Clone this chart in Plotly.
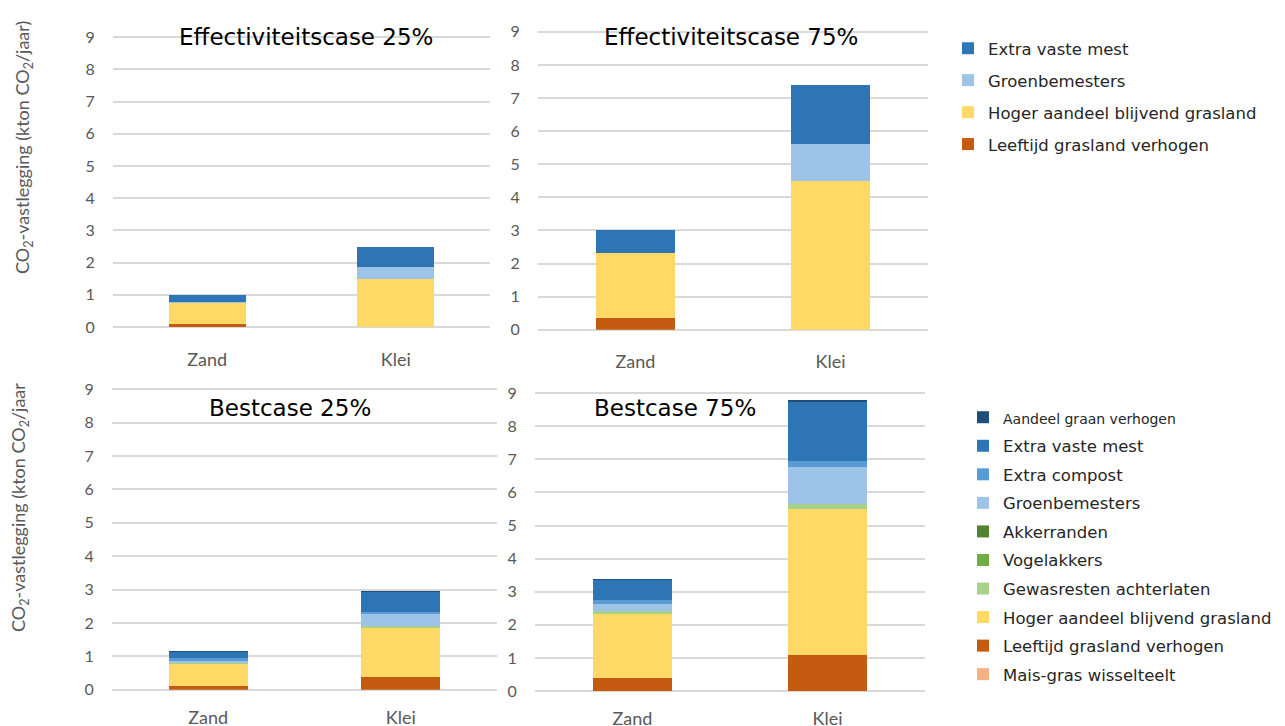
import plotly.graph_objects as go

W, H = 1285, 726

categories = ["Zand", "Klei"]

# Effectiviteitscase 25%  (values per category: Zand, Klei)
eff25_leeftijd = [0.10, 0.00]
eff25_hoger = [0.65, 1.50]
eff25_groen = [0.02, 0.37]
eff25_mest = [0.23, 0.61]

# Effectiviteitscase 75%
eff75_leeftijd = [0.35, 0.00]
eff75_hoger = [1.98, 4.50]
eff75_groen = [0.00, 1.10]
eff75_mest = [0.67, 1.80]

# Bestcase 25%
best25_mais = [0.00, 0.00]
best25_leeftijd = [0.12, 0.38]
best25_hoger = [0.67, 1.46]
best25_gewas = [0.02, 0.06]
best25_vogel = [0.00, 0.00]
best25_akker = [0.00, 0.00]
best25_groen = [0.08, 0.37]
best25_compost = [0.05, 0.07]
best25_mest = [0.20, 0.60]
best25_graan = [0.01, 0.02]

# Bestcase 75%
best75_mais = [0.00, 0.00]
best75_leeftijd = [0.40, 1.08]
best75_hoger = [1.96, 4.42]
best75_gewas = [0.05, 0.16]
best75_vogel = [0.00, 0.00]
best75_akker = [0.00, 0.00]
best75_groen = [0.22, 1.11]
best75_compost = [0.11, 0.18]
best75_mest = [0.63, 1.81]
best75_graan = [0.02, 0.02]

y_ticks = [0, 1, 2, 3, 4, 5, 6, 7, 8, 9]

COLORS = {
    "Aandeel graan verhogen": "#1F4E79",
    "Extra vaste mest": "#2E75B6",
    "Extra compost": "#5B9BD5",
    "Groenbemesters": "#9DC3E6",
    "Akkerranden": "#548235",
    "Vogelakkers": "#70AD47",
    "Gewasresten achterlaten": "#A9D18E",
    "Hoger aandeel blijvend grasland": "#FFD966",
    "Leeftijd grasland verhogen": "#C55A11",
    "Mais-gras wisselteelt": "#F4B183",
}

# stacking order, bottom to top
eff_series = [
    ("Leeftijd grasland verhogen", eff25_leeftijd, eff75_leeftijd),
    ("Hoger aandeel blijvend grasland", eff25_hoger, eff75_hoger),
    ("Groenbemesters", eff25_groen, eff75_groen),
    ("Extra vaste mest", eff25_mest, eff75_mest),
]
best_series = [
    ("Mais-gras wisselteelt", best25_mais, best75_mais),
    ("Leeftijd grasland verhogen", best25_leeftijd, best75_leeftijd),
    ("Hoger aandeel blijvend grasland", best25_hoger, best75_hoger),
    ("Gewasresten achterlaten", best25_gewas, best75_gewas),
    ("Vogelakkers", best25_vogel, best75_vogel),
    ("Akkerranden", best25_akker, best75_akker),
    ("Groenbemesters", best25_groen, best75_groen),
    ("Extra compost", best25_compost, best75_compost),
    ("Extra vaste mest", best25_mest, best75_mest),
    ("Aandeel graan verhogen", best25_graan, best75_graan),
]

# panel boxes in pixels: (left, right, y-pixel of 0, pixels per unit, x tick gap)
panels = {
    1: (113, 490, 327.0, 32.2, 16),
    2: (538, 928, 329.7, 33.1, 16),
    3: (112, 497, 689.7, 33.4, 12),
    4: (535, 925, 691.0, 33.1, 11),
}
YMAX = 9.1

fig = go.Figure()

def add_stack(series, idx, axis_n, group_prefix):
    for name, v25, v75 in series:
        vals = v25 if idx == 0 else v75
        fig.add_trace(go.Bar(
            x=categories, y=vals, name=name,
            marker=dict(color=COLORS[name], line=dict(width=0)),
            xaxis="x" if axis_n == 1 else f"x{axis_n}",
            yaxis="y" if axis_n == 1 else f"y{axis_n}",
            legendgroup=f"{group_prefix}_{name}",
            showlegend=False,
        ))

add_stack(eff_series, 0, 1, "eff")
add_stack(eff_series, 1, 2, "eff")
add_stack(best_series, 0, 3, "best")
add_stack(best_series, 1, 4, "best")

# legend entries (top to bottom)
for rank, (name, _, _) in enumerate(reversed(eff_series)):
    fig.add_trace(go.Scatter(
        x=[None], y=[None], mode="markers", name=name,
        marker=dict(symbol="square", size=9, color=COLORS[name]),
        legend="legend", legendgroup=f"eff_{name}", legendrank=rank + 1,
        xaxis="x", yaxis="y",
    ))
for rank, (name, _, _) in enumerate(reversed(best_series)):
    label = name
    if name == "Aandeel graan verhogen":
        label = "<span style='font-size:14px'>Aandeel graan verhogen</span>"
    fig.add_trace(go.Scatter(
        x=[None], y=[None], mode="markers", name=label,
        marker=dict(symbol="square", size=9, color=COLORS[name]),
        legend="legend2", legendgroup=f"best_{name}", legendrank=rank + 1,
        xaxis="x3", yaxis="y3",
    ))

layout = dict(
    width=W, height=H,
    margin=dict(l=0, r=0, t=0, b=0, autoexpand=False),
    paper_bgcolor="white", plot_bgcolor="white",
    barmode="stack", bargap=0.59,
    showlegend=True,
)

for n, (left, right, y0, unit, xgap) in panels.items():
    top = y0 - YMAX * unit
    xa = "xaxis" if n == 1 else f"xaxis{n}"
    ya = "yaxis" if n == 1 else f"yaxis{n}"
    xref = "x" if n == 1 else f"x{n}"
    yref = "y" if n == 1 else f"y{n}"
    layout[xa] = dict(
        domain=[left / W, right / W], anchor=yref, automargin=False,
        showgrid=False, zeroline=False, showline=False,
        ticks="outside", ticklen=xgap, tickcolor="rgba(0,0,0,0)",
        tickfont=dict(family="Lato", size=18, color="#595959"),
        fixedrange=True,
    )
    layout[ya] = dict(
        domain=[1 - y0 / H, 1 - top / H], anchor=xref, automargin=False,
        range=[0, YMAX], tickvals=y_ticks,
        showgrid=True, gridcolor="#D9D9D9", gridwidth=2,
        zeroline=True, zerolinecolor="#D9D9D9", zerolinewidth=2,
        showline=False,
        ticks="outside", ticklen=14, tickcolor="rgba(0,0,0,0)",
        tickfont=dict(family="Lato", size=16, color="#595959"),
        fixedrange=True,
    )

legend_font = dict(family="DejaVu Sans", size=16.5, color="#262626")
layout["legend"] = dict(
    x=948 / W, y=1 - 31 / H, xanchor="left", yanchor="top",
    font=legend_font, tracegroupgap=7.5, traceorder="grouped",
    bgcolor="rgba(0,0,0,0)", itemsizing="constant",
)
layout["legend2"] = dict(
    x=963 / W, y=1 - 400 / H, xanchor="left", yanchor="top",
    font=legend_font, tracegroupgap=4.1, traceorder="grouped",
    bgcolor="rgba(0,0,0,0)", itemsizing="constant",
)

title_font = dict(family="DejaVu Sans", size=23, color="#000000")
annotations = [
    dict(text="Effectiviteitscase 25%", x=306 / W, y=1 - 37 / H),
    dict(text="Effectiviteitscase 75%", x=731 / W, y=1 - 37 / H),
    dict(text="Bestcase 25%", x=290 / W, y=1 - 408 / H),
    dict(text="Bestcase 75%", x=675 / W, y=1 - 408 / H),
]
for a in annotations:
    a.update(xref="paper", yref="paper", showarrow=False,
             xanchor="center", yanchor="middle", font=title_font)

axis_title_font = dict(family="Lato", size=18, color="#595959")
annotations += [
    dict(text="CO<sub>2</sub>-vastlegging (kton CO<sub>2</sub>/jaar)",
         x=23 / W, y=1 - 148 / H, textangle=-90),
    dict(text="CO<sub>2</sub>-vastlegging (kton CO<sub>2</sub>/jaar",
         x=19 / W, y=1 - 508 / H, textangle=-90),
]
for a in annotations[4:]:
    a.update(xref="paper", yref="paper", showarrow=False,
             xanchor="center", yanchor="middle", font=axis_title_font)

layout["annotations"] = annotations
fig.update_layout(**layout)

# page without the default body margin so the figure fills the window exactly
fig.write_html("out.html", post_script="document.body.style.margin='0';")
